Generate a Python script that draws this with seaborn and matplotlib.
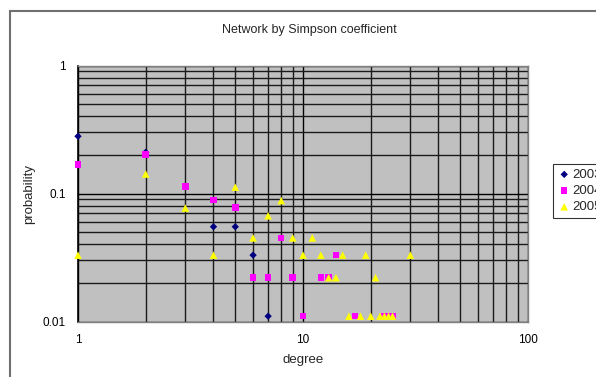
import matplotlib
matplotlib.use("Agg")
import matplotlib.pyplot as plt
import seaborn as sns
import pandas as pd
from matplotlib.patches import Rectangle
from matplotlib.ticker import LogLocator, FixedLocator, FixedFormatter, NullFormatter

years = ["2003", "2004", "2005"]

deg_2003 = [1, 2, 4, 5, 6, 7]
prob_2003 = [0.28, 0.21, 0.055, 0.055, 0.033, 0.011]

deg_2004 = [1, 2, 3, 4, 5, 6, 7, 8, 9, 10, 12, 13, 14, 17, 23, 24, 25]
prob_2004 = [0.168, 0.202, 0.113, 0.089, 0.078, 0.022, 0.022, 0.045, 0.022,
             0.011, 0.022, 0.022, 0.033, 0.011, 0.011, 0.011, 0.011]

deg_2005 = [1, 2, 3, 4, 5, 6, 7, 8, 9, 10, 11, 12, 13, 14, 15, 16, 18, 19,
            20, 21, 22, 23, 24, 25, 30]
prob_2005 = [0.033, 0.142, 0.077, 0.033, 0.112, 0.045, 0.067, 0.088, 0.045,
             0.033, 0.045, 0.033, 0.022, 0.022, 0.033, 0.011, 0.011, 0.033,
             0.011, 0.022, 0.011, 0.011, 0.011, 0.011, 0.033]

x_ticks = [1, 10, 100]
x_labels = ["1", "10", "100"]
y_ticks = [0.01, 0.1, 1]
y_labels = ["0.01", "0.1", "1"]

df = pd.concat([
    pd.DataFrame({"degree": deg_2003, "probability": prob_2003, "year": "2003"}),
    pd.DataFrame({"degree": deg_2004, "probability": prob_2004, "year": "2004"}),
    pd.DataFrame({"degree": deg_2005, "probability": prob_2005, "year": "2005"}),
])

sns.set_style("white")
plt.rcParams["font.family"] = ["Liberation Sans", "DejaVu Sans"]

fig = plt.figure(figsize=(5.96, 3.77), dpi=100)
ax = fig.add_axes([78 / 596, 1 - 321.5 / 377, 450 / 596, 256 / 377])
ax.set_facecolor("#c0c0c0")

palette = {"2003": "#000080", "2004": "#ff00ff", "2005": "#ffff00"}
markers = {"2003": "D", "2004": "s", "2005": "^"}
sizes = {"2003": 14, "2004": 22, "2005": 30}

for yr in years:
    sub = df[df["year"] == yr]
    sns.scatterplot(data=sub, x="degree", y="probability", ax=ax,
                    color=palette[yr], marker=markers[yr], s=sizes[yr],
                    edgecolor="none", linewidth=0, label=yr, zorder=3,
                    clip_on=False)

ax.set_xscale("log")
ax.set_yscale("log")
ax.set_xlim(1, 100)
ax.set_ylim(0.01, 1)

ax.xaxis.set_major_locator(FixedLocator(x_ticks))
ax.xaxis.set_major_formatter(FixedFormatter(x_labels))
ax.yaxis.set_major_locator(FixedLocator(y_ticks))
ax.yaxis.set_major_formatter(FixedFormatter(y_labels))
ax.xaxis.set_minor_locator(LogLocator(base=10, subs=range(2, 10)))
ax.yaxis.set_minor_locator(LogLocator(base=10, subs=range(2, 10)))
ax.xaxis.set_minor_formatter(NullFormatter())
ax.yaxis.set_minor_formatter(NullFormatter())

ax.grid(True, which="major", color="#000000", linewidth=1.0, zorder=1)
ax.grid(True, which="minor", color="#1a1a1a", linewidth=1.0, zorder=1)
ax.set_axisbelow(True)

ax.tick_params(axis="x", which="both", length=0, pad=9, labelsize=8.5, colors="#000000")
ax.tick_params(axis="y", which="major", length=4, direction="out", width=1,
               pad=5, labelsize=8.5, colors="#000000")
ax.tick_params(axis="y", which="minor", length=0)

for side in ["top", "right", "bottom"]:
    ax.spines[side].set_color("#808080")
    ax.spines[side].set_linewidth(1.0)
ax.spines["left"].set_color("#000000")
ax.spines["left"].set_linewidth(1.2)

ax.set_xlabel("degree", fontsize=9.5, labelpad=6)
ax.set_ylabel("probability", fontsize=9.5, labelpad=5)
fig.text(309 / 596, 1 - 30 / 377, "Network by Simpson coefficient",
         ha="center", va="center", fontsize=9)

leg = ax.legend(loc="upper left", bbox_to_anchor=(553 / 596, 1 - 164 / 377),
                bbox_transform=fig.transFigure, frameon=True, fontsize=9.5,
                handletextpad=0.1, borderpad=0.35, labelspacing=0.3,
                handlelength=1.0, borderaxespad=0, fancybox=False)
leg.get_frame().set_edgecolor("#000000")
leg.get_frame().set_linewidth(0.8)
leg.get_frame().set_facecolor("white")

fig.patches.append(Rectangle((10 / 596, -0.05), 1.2, 1.05 - 11 / 377,
                             transform=fig.transFigure, fill=False,
                             edgecolor="#707070", linewidth=1.5, zorder=0))

fig.savefig("out.png", dpi=100)
